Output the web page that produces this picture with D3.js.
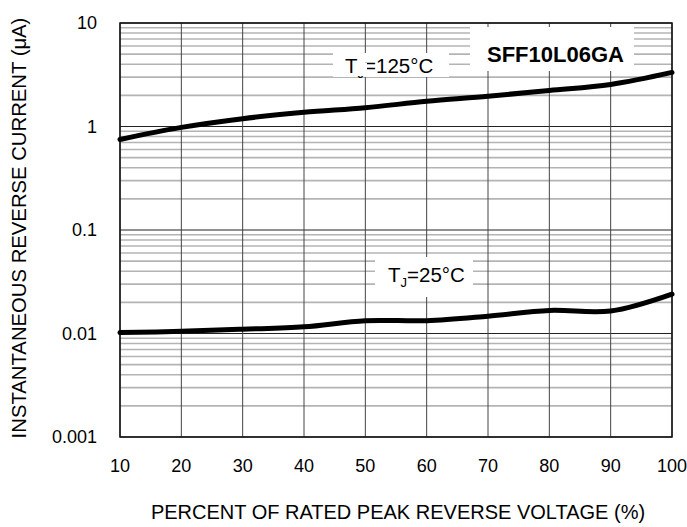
<!DOCTYPE html>
<html>
<head>
<meta charset="utf-8">
<script src="https://d3js.org/d3.v7.min.js"></script>
<style>
  body { margin: 0; background: #fff; }
  text { font-family: "Liberation Sans", Arial, sans-serif; fill: #000; }
</style>
</head>
<body>
<div id="chart"></div>
<script>
// Reverse current vs percent of rated voltage
const percent = [10, 20, 30, 40, 50, 60, 70, 80, 90, 100];
const current125 = [0.75, 0.98, 1.19, 1.37, 1.52, 1.75, 1.96, 2.23, 2.55, 3.33];
const current25 = [0.0102, 0.0105, 0.011, 0.0116, 0.0133, 0.0133, 0.0147, 0.0167, 0.0165, 0.024];
const xTicks = [10, 20, 30, 40, 50, 60, 70, 80, 90, 100];
const yTicks = [0.001, 0.01, 0.1, 1, 10];
const yTickLabels = ["0.001", "0.01", "0.1", "1", "10"];

const width = 687, height = 527;
const margin = {top: 23, right: 15, bottom: 90, left: 120};

const svg = d3.select('#chart').append('svg')
    .attr('width', width)
    .attr('height', height);

const x = d3.scaleLinear().domain([10, 100]).range([margin.left, width - margin.right]);
const y = d3.scaleLog().domain([0.001, 10]).range([height - margin.bottom, margin.top]);

// minor horizontal grid (2..9 in each decade)
const minor = [];
for (let d = 0.001; d < 10; d *= 10) {
    for (let k = 2; k <= 9; k++) minor.push(d * k);
}
svg.append('g').selectAll('line')
    .data(minor)
    .join('line')
    .attr('x1', x(10)).attr('x2', x(100))
    .attr('y1', d => y(d)).attr('y2', d => y(d))
    .attr('stroke', '#b4b4b4')
    .attr('stroke-width', 1.6);

// decade lines
svg.append('g').selectAll('line')
    .data(yTicks)
    .join('line')
    .attr('x1', x(10)).attr('x2', x(100))
    .attr('y1', d => y(d)).attr('y2', d => y(d))
    .attr('stroke', '#222')
    .attr('stroke-width', 1);

// vertical grid
svg.append('g').selectAll('line')
    .data(xTicks)
    .join('line')
    .attr('x1', d => x(d)).attr('x2', d => x(d))
    .attr('y1', y(10)).attr('y2', y(0.001))
    .attr('stroke', '#444')
    .attr('stroke-width', 1);

// label backgrounds
const boxes = [
    {x: 470, y: 27, w: 164, h: 44},
    {x: 333, y: 53, w: 116, h: 24},
    {x: 375, y: 257, w: 98, h: 40}
];
svg.append('g').selectAll('rect')
    .data(boxes)
    .join('rect')
    .attr('x', d => d.x).attr('y', d => d.y)
    .attr('width', d => d.w).attr('height', d => d.h)
    .attr('fill', '#fff');

// frame
svg.append('rect')
    .attr('x', x(10)).attr('y', y(10))
    .attr('width', x(100) - x(10)).attr('height', y(0.001) - y(10))
    .attr('fill', 'none')
    .attr('stroke', '#111')
    .attr('stroke-width', 1.5);

// curves
const line = d3.line()
    .x((d, i) => x(percent[i]))
    .y(d => y(d))
    .curve(d3.curveCatmullRom);

[current125, current25].forEach(s => {
    svg.append('path')
        .datum(s)
        .attr('d', line)
        .attr('fill', 'none')
        .attr('stroke', '#000')
        .attr('stroke-width', 5)
        .attr('stroke-linecap', 'round');
});

// axis tick labels
svg.append('g').selectAll('text')
    .data(xTicks)
    .join('text')
    .attr('x', d => x(d))
    .attr('y', 472)
    .attr('text-anchor', 'middle')
    .style('font-size', '18px')
    .text(d => d);

svg.append('g').selectAll('text')
    .data(yTicks)
    .join('text')
    .attr('x', 97)
    .attr('y', d => y(d) + 6)
    .attr('text-anchor', 'end')
    .style('font-size', '18px')
    .text((d, i) => yTickLabels[i]);

// axis titles
svg.append('text')
    .attr('x', 398)
    .attr('y', 519)
    .attr('text-anchor', 'middle')
    .style('font-size', '20px')
    .text('PERCENT OF RATED PEAK REVERSE VOLTAGE (%)');

svg.append('text')
    .attr('transform', 'translate(26,228) rotate(-90)')
    .attr('text-anchor', 'middle')
    .style('font-size', '20.3px')
    .text('INSTANTANEOUS REVERSE CURRENT (μA)');

// annotations
svg.append('text')
    .attr('x', 487).attr('y', 62)
    .style('font-size', '22px')
    .style('font-weight', 'bold')
    .text('SFF10L06GA');

function tjLabel(px, py, value) {
    const t = svg.append('text')
        .attr('x', px).attr('y', py)
        .style('font-size', '20.5px');
    t.append('tspan').text('T');
    t.append('tspan').attr('dy', 5).style('font-size', '13px').text('J');
    t.append('tspan').attr('dy', -5).text('=' + value + '°C');
    return t;
}
tjLabel(345, 73, 125);
// the original box hides most of the subscript on the upper label
svg.append('rect')
    .attr('x', 357).attr('y', 63).attr('width', 10).attr('height', 13)
    .attr('fill', '#fff');
tjLabel(388, 282, 25);
</script>
</body>
</html>
